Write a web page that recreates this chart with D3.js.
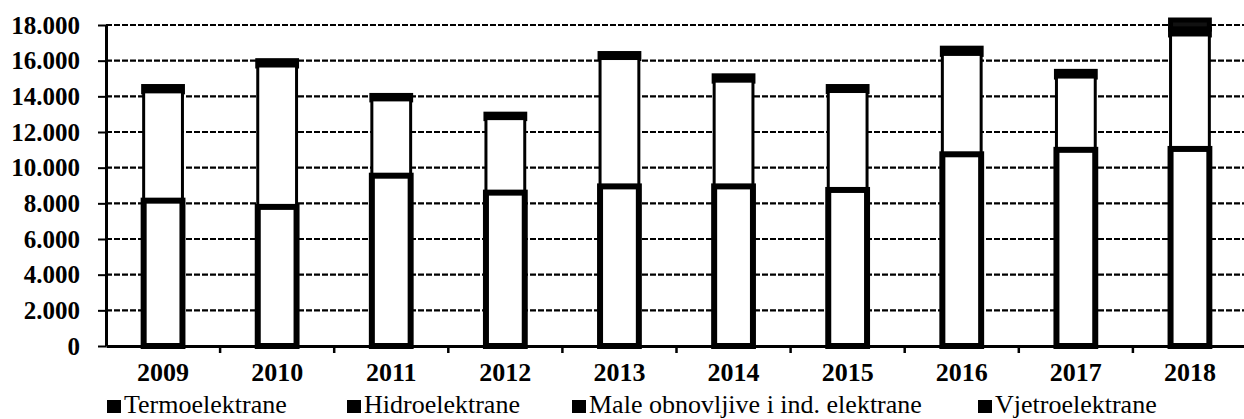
<!DOCTYPE html>
<html>
<head>
<meta charset="utf-8">
<script src="https://cdn.jsdelivr.net/npm/d3@7/dist/d3.min.js"></script>
<style>
  body { margin: 0; background: #fff; }
  svg { display: block; font-family: "Liberation Serif", "Times New Roman", serif; }
</style>
</head>
<body>
<div id="chart"></div>
<script>
// data
var years = ["2009", "2010", "2011", "2012", "2013", "2014", "2015", "2016", "2017", "2018"]
var termo = [8150, 7800, 9550, 8600, 8950, 8950, 8750, 10750, 11000, 11050]
var hidro = [6100, 7900, 4250, 4150, 7170, 5900, 5520, 5600, 4080, 6390]
var male = [300, 300, 250, 250, 280, 300, 280, 350, 320, 330]
var vjetro = [0, 0, 0, 0, 0, 0, 0, 0, 0, 510]
var seriesNames = ["Termoelektrane", "Hidroelektrane", "Male obnovljive i ind. elektrane", "Vjetroelektrane"]
var yTicks = [0, 2000, 4000, 6000, 8000, 10000, 12000, 14000, 16000, 18000]

var svgWidth = 1244
var svgHeight = 419

var margin = { top: 25, right: -3, bottom: 73, left: 106 }
var width = svgWidth - margin.left - margin.right
var height = svgHeight - margin.top - margin.bottom

var svg = d3.select("#chart")
  .append("svg")
  .attr("width", svgWidth)
  .attr("height", svgHeight)

var chartGroup = svg.append("g")
  .attr("transform", `translate(${margin.left}, ${margin.top})`)

// table for the stack
var table = years.map(function(y, i) {
  return { year: y, t: termo[i], h: hidro[i], m: male[i], v: vjetro[i] }
})
var keys = ["t", "h", "m", "v"]
var stacked = d3.stack().keys(keys)(table)

//scales
var xScale = d3.scaleBand()
  .domain(years)
  .range([0, width])
  .paddingInner(0.66)
  .paddingOuter(0.33)

var yScale = d3.scaleLinear()
  .domain([0, 18000])
  .range([height, 0])

// dashed grid
chartGroup.append("g")
  .selectAll("line")
  .data(yTicks.filter(d => d > 0))
  .enter()
  .append("line")
  .attr("x1", 0)
  .attr("x2", width)
  .attr("y1", d => yScale(d))
  .attr("y2", d => yScale(d))
  .attr("stroke", "#000")
  .attr("stroke-width", 2.2)
  .attr("stroke-dasharray", "6,2")

// bars, top series first so termo's heavy outline sits on top
var styles = {
  t: { fill: "#fff", sw: 6 },
  h: { fill: "#fff", sw: 3 },
  m: { fill: "#000", sw: 5 },
  v: { fill: "#111", sw: 5 }
}
stacked.slice().reverse().forEach(function(layer) {
  var st = styles[layer.key]
  chartGroup.append("g")
    .selectAll("rect")
    .data(layer.filter(d => d[1] - d[0] > 0))
    .enter()
    .append("rect")
    .attr("x", d => xScale(d.data.year))
    .attr("width", xScale.bandwidth())
    .attr("y", d => yScale(d[1]))
    .attr("height", d => yScale(d[0]) - yScale(d[1]))
    .attr("fill", st.fill)
    .attr("stroke", "#000")
    .attr("stroke-width", st.sw)
})

// axes
var leftAxis = d3.axisLeft(yScale)
  .tickValues(yTicks)
  .tickFormat(d => d === 0 ? "0" : d3.format(",")(d).replace(",", "."))
  .tickSize(8)
  .tickPadding(18)
  .tickSizeOuter(0)

var yAxisG = chartGroup.append("g").call(leftAxis)
yAxisG.select(".domain").attr("stroke-width", 3)
yAxisG.selectAll(".tick line").attr("stroke-width", 2)
yAxisG.selectAll("text")
  .attr("font-family", "Liberation Serif")
  .attr("font-size", 25)
  .attr("font-weight", "bold")
  .attr("fill", "#000")

var bottomAxis = d3.axisBottom(xScale)
  .tickSize(0)
  .tickPadding(17)
  .tickSizeOuter(0)

var xAxisG = chartGroup.append("g")
  .attr("transform", `translate(0, ${height})`)
  .call(bottomAxis)
xAxisG.select(".domain").attr("stroke-width", 3)
xAxisG.selectAll("text")
  .attr("font-family", "Liberation Serif")
  .attr("font-size", 26)
  .attr("font-weight", "bold")
  .attr("fill", "#000")

// category boundary ticks
xAxisG.append("g")
  .selectAll("line")
  .data(years.slice(1))
  .enter()
  .append("line")
  .attr("x1", d => xScale(d) - xScale.step() * 0.33)
  .attr("x2", d => xScale(d) - xScale.step() * 0.33)
  .attr("y1", 0)
  .attr("y2", 7)
  .attr("stroke", "#000")
  .attr("stroke-width", 2.5)

// legend
var legendX = [107, 347, 572, 978]
var legend = svg.append("g")
  .selectAll("g")
  .data(seriesNames)
  .enter()
  .append("g")
  .attr("transform", (d, i) => `translate(${legendX[i]}, 0)`)

legend.append("rect")
  .attr("x", 0)
  .attr("y", 400)
  .attr("width", 14)
  .attr("height", 13)
  .attr("fill", "#000")

legend.append("text")
  .attr("x", 17)
  .attr("y", 413)
  .attr("font-size", 26)
  .attr("fill", "#000")
  .text(d => d)
</script>
</body>
</html>
